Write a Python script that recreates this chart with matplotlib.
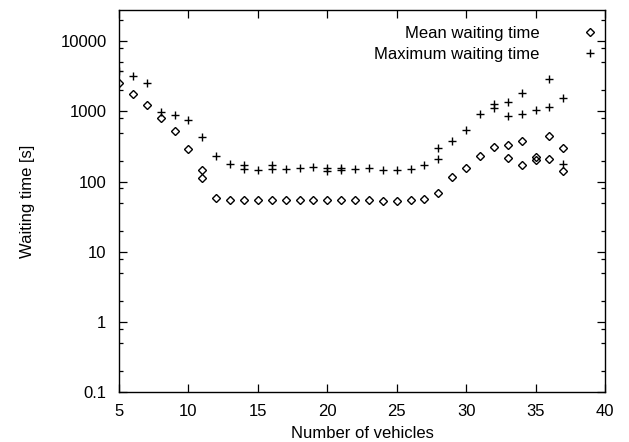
import matplotlib
matplotlib.use("Agg")
import matplotlib.pyplot as plt
from matplotlib.ticker import LogLocator, FixedLocator, NullFormatter

plt.rcParams['font.family'] = ['Liberation Sans', 'DejaVu Sans']

# Mean waiting time [s]
mean_x = [5, 6, 7, 8, 9, 10, 11, 11, 12, 13, 14, 15, 16, 17, 18, 19, 20, 21,
          22, 23, 24, 25, 26, 27, 28, 29, 30, 31, 32, 33, 33, 34, 34, 35, 35,
          36, 36, 37, 37]
mean_y = [2570, 1770, 1230, 810, 530, 296, 145, 114, 59, 55, 54, 54, 54, 54,
          54, 54, 54, 54, 54, 54, 53, 53, 54, 57, 69, 115, 157, 235, 313, 330,
          220, 385, 171, 222, 201, 454, 213, 303, 142]

# Maximum waiting time [s]
max_x = [5, 6, 7, 8, 9, 10, 11, 12, 13, 14, 14, 15, 16, 16, 17, 18, 19, 20,
         20, 21, 21, 22, 23, 24, 25, 26, 27, 28, 28, 29, 30, 31, 32, 32, 33,
         33, 34, 34, 35, 36, 36, 37, 37]
max_y = [3770, 3190, 2570, 975, 877, 760, 430, 235, 179, 175, 153, 148, 170,
         150, 153, 157, 162, 158, 142, 158, 145, 152, 155, 145, 145, 152, 170,
         303, 213, 377, 553, 906, 1260, 1130, 1360, 858, 1850, 927, 1045, 2860,
         1170, 1570, 181]

x_ticks = [5, 10, 15, 20, 25, 30, 35, 40]
y_ticks = [0.1, 1, 10, 100, 1000, 10000]
y_tick_labels = ['0.1', '1', '10', '100', '1000', '10000']

fig = plt.figure(figsize=(6.29, 4.42), dpi=100)
ax = fig.add_axes([119 / 629, 1 - 392 / 442, (605 - 119) / 629, (392 - 10) / 442])

ax.plot(mean_x, mean_y, linestyle='none', marker='D', markersize=3.8,
        markerfacecolor='none', markeredgecolor='black', markeredgewidth=1.0,
        label='Mean waiting time')
ax.plot(max_x, max_y, linestyle='none', marker='+', markersize=5.5,
        color='black', markeredgewidth=1.0, label='Maximum waiting time')

ax.set_yscale('log')
ax.set_xlim(5, 40)
ax.set_ylim(0.1, 28000)

ax.xaxis.set_major_locator(FixedLocator(x_ticks))
ax.set_xticklabels([str(t) for t in x_ticks])
ax.yaxis.set_major_locator(FixedLocator(y_ticks))
ax.set_yticklabels(y_tick_labels)
ax.yaxis.set_minor_locator(LogLocator(base=10, subs=(2, 5, 8)))
ax.yaxis.set_minor_formatter(NullFormatter())

ax.tick_params(which='both', direction='in', top=True, right=True,
               labelsize=12, colors='black')
ax.tick_params(which='major', length=6, width=0.9, pad=9)
ax.tick_params(which='minor', length=3, width=0.9)
for s in ax.spines.values():
    s.set_linewidth(1.0)

ax.set_xlabel('Number of vehicles', fontsize=12, labelpad=5)
ax.set_ylabel('Waiting time [s]', fontsize=12, labelpad=18)

ax.legend(loc='upper right', frameon=False, markerfirst=False, fontsize=12,
          handlelength=1.0, handletextpad=2.5, labelspacing=0.34,
          borderpad=0.0, borderaxespad=0.0,
          bbox_to_anchor=((598 - 119) / (605 - 119), 1 - 16 / 382))

fig.savefig('out.png', dpi=100)
